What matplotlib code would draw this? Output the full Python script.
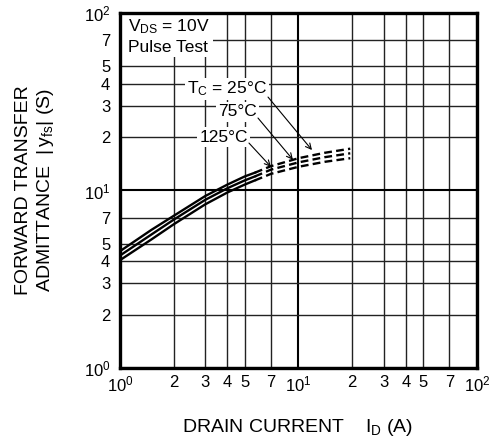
import matplotlib.pyplot as plt
from matplotlib.patches import Rectangle
from matplotlib.ticker import FixedLocator

plt.rcParams['font.family'] = ['Liberation Sans', 'DejaVu Sans']
plt.rcParams['mathtext.fontset'] = 'custom'
plt.rcParams['mathtext.rm'] = 'Liberation Sans'

# drain current (A), solid part and dashed part of the curves
id_solid = [1, 1.5, 2, 3, 4, 5, 5.7]
id_dash = [5.7, 7, 10, 14, 19.5]

# forward transfer admittance |yfs| (S)
yfs_25_solid = [4.55, 6.0, 7.2, 9.3, 10.8, 12.0, 12.6]
yfs_25_dash = [12.6, 13.7, 15.2, 16.3, 17.2]
yfs_75_solid = [4.3, 5.65, 6.85, 8.85, 10.3, 11.4, 12.0]
yfs_75_dash = [12.0, 13.1, 14.4, 15.4, 16.2]
yfs_125_solid = [4.05, 5.3, 6.45, 8.35, 9.75, 10.8, 11.4]
yfs_125_dash = [11.4, 12.4, 13.6, 14.5, 15.2]

major = [1, 10, 100]
minor = [2, 3, 4, 5, 7, 20, 30, 40, 50, 70]
major_labels = [r'$\mathregular{10^{0}}$', r'$\mathregular{10^{1}}$', r'$\mathregular{10^{2}}$']
minor_labels = ['2', '3', '4', '5', '7', '2', '3', '4', '5', '7']

fig = plt.figure(figsize=(4.96, 4.43), dpi=100)
ax = fig.add_axes([0.2419, 0.1693, 0.7198, 0.8014])
ax.set_xscale('log')
ax.set_yscale('log')
ax.set_xlim(1, 100)
ax.set_ylim(1, 100)

ax.xaxis.set_major_locator(FixedLocator(major))
ax.yaxis.set_major_locator(FixedLocator(major))
ax.set_xticklabels(major_labels)
ax.set_yticklabels(major_labels)
ax.set_xticks(minor, minor_labels, minor=True)
ax.set_yticks(minor, minor_labels, minor=True)
ax.tick_params(which='both', length=0, labelsize=12)
ax.tick_params(axis='x', which='both', pad=5)
ax.tick_params(axis='y', which='both', pad=7)

ax.grid(which='major', color='black', lw=1.5)
ax.grid(which='minor', color='#222222', lw=1.0)
ax.set_axisbelow(True)
for s in ax.spines.values():
    s.set_linewidth(2.4)
    s.set_zorder(5)

lw = 1.7
for ys, yd in [(yfs_25_solid, yfs_25_dash), (yfs_75_solid, yfs_75_dash),
               (yfs_125_solid, yfs_125_dash)]:
    ax.plot(id_solid, ys, color='black', lw=lw, zorder=3)
    ax.plot(id_dash, yd, color='black', lw=lw, dashes=(3.3, 1.8), zorder=3)

# white box behind the test conditions
ax.add_patch(Rectangle((1, 56.5), 2.32, 43.5, facecolor='white', edgecolor='none', zorder=2))
ax.text(1.11, 84, r'V$\mathregular{_{DS}}$ = 10V', fontsize=12.5, va='center', ha='left', zorder=4)
ax.text(1.11, 63.5, 'Pulse Test', fontsize=12.5, va='center', ha='left', zorder=4)

box = dict(facecolor='white', edgecolor='none', pad=1.5)
ax.text(6.66, 37.3, r'T$\mathregular{_C}$ = 25°C', fontsize=12.5, va='center', ha='right', bbox=box, zorder=4)
ax.text(5.85, 27.7, '75°C', fontsize=12.5, va='center', ha='right', bbox=box, zorder=4)
ax.text(5.21, 20.0, '125°C', fontsize=12.5, va='center', ha='right', bbox=box, zorder=4)

arw = dict(arrowstyle='->', color='black', lw=0.8, shrinkA=0, shrinkB=0)
ax.annotate('', xy=(11.9, 16.9), xytext=(6.75, 33.6), arrowprops=arw, zorder=4)
ax.annotate('', xy=(9.31, 14.9), xytext=(5.93, 25.6), arrowprops=arw, zorder=4)
ax.annotate('', xy=(7.01, 13.6), xytext=(5.28, 18.5), arrowprops=arw, zorder=4)

fig.text(0.601, 0.036, r'DRAIN CURRENT    I$\mathregular{_D}$ (A)', fontsize=14, ha='center', va='center')
fig.text(0.048, 0.571, 'FORWARD TRANSFER', fontsize=14, rotation=90, ha='center', va='center')
fig.text(0.092, 0.571, r'ADMITTANCE  $\mathregular{|\,y_{fs}|}$ (S)', fontsize=14, rotation=90, ha='center', va='center')

fig.savefig('out.png', dpi=100)
